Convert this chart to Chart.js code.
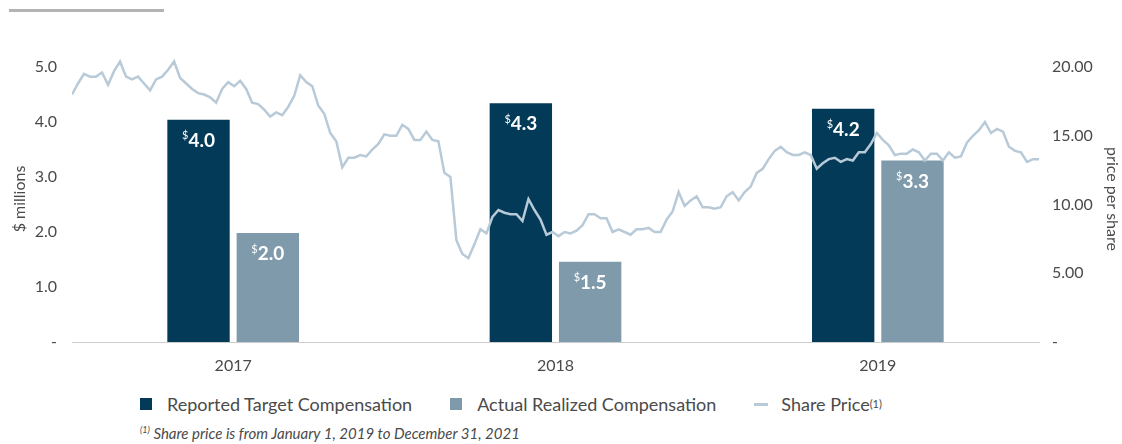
<!DOCTYPE html>
<html>
<head>
<meta charset="utf-8">
<script src="https://cdn.jsdelivr.net/npm/chart.js@4"></script>
<style>
  html, body { margin: 0; padding: 0; background: #fff; }
  body { width: 1122px; height: 444px; position: relative; overflow: hidden; font-family: Lato, "Noto Sans", sans-serif; }
  .topRule { position: absolute; left: 9px; top: 9px; width: 155px; height: 3px; background: #b3b3b3; }
  .chartBox { position: absolute; left: 0; top: 0; width: 1122px; height: 385px; }
  #legend { position: absolute; left: 140px; top: 393px; display: flex; align-items: center; color: #4a4a4a; font-size: 18px; }
  #legend .item { display: flex; align-items: center; margin-right: 38px; }
  #legend .box { width: 12px; height: 12px; margin-right: 15px; }
  #legend .dash { width: 14px; height: 3px; margin-right: 13px; }
  sup { font-size: 11px; vertical-align: 6px; line-height: 0; }
  .note { position: absolute; left: 140px; top: 424px; font-size: 15px; font-style: italic; color: #4a4a4a; }
  .note sup { font-size: 9px; vertical-align: 6px; }
</style>
</head>
<body>
<div class="topRule"></div>
<div class="chartBox"><canvas id="compChart"></canvas></div>
<div id="legend"></div>
<div class="note"><sup>(1)</sup> Share price is from January 1, 2019 to December 31, 2021</div>

<script>
// Compensation bars ($ millions)
const years = ['2017', '2018', '2019'];
const targetComp = [4.04, 4.34, 4.24];
const realizedComp = [1.98, 1.46, 3.30];

// Share price, weekly, left to right
const sharePrice = [
  18.0, 18.8, 19.5, 19.3, 19.3, 19.6, 18.7, 19.7, 20.4, 19.3,
  19.1, 19.3, 18.8, 18.3, 19.1, 19.3, 19.8, 20.4, 19.2, 18.8,
  18.4, 18.1, 18.0, 17.8, 17.4, 18.4, 18.9, 18.6, 19.0, 18.4,
  17.4, 17.3, 16.9, 16.4, 16.7, 16.5, 17.1, 17.9, 19.4, 18.9,
  18.6, 17.2, 16.6, 15.2, 14.6, 12.7, 13.4, 13.4, 13.6, 13.5,
  14.0, 14.4, 15.1, 15.0, 15.0, 15.8, 15.5, 14.7, 14.7, 15.3,
  14.7, 14.6, 12.3, 12.0, 7.4, 6.4, 6.1, 7.1, 8.2, 7.9,
  9.1, 9.6, 9.4, 9.3, 9.3, 8.8, 10.4, 9.6, 8.9, 7.8,
  8.0, 7.7, 8.0, 7.9, 8.1, 8.5, 9.3, 9.3, 9.0, 9.0,
  8.0, 8.2, 8.0, 7.8, 8.2, 8.2, 8.3, 8.0, 8.0, 8.9,
  9.5, 10.9, 9.9, 10.3, 10.6, 9.8, 9.8, 9.7, 9.8, 10.6,
  10.9, 10.3, 10.9, 11.3, 12.3, 12.6, 13.3, 13.9, 14.2, 13.8,
  13.6, 13.6, 13.8, 13.6, 12.6, 13.0, 13.3, 13.4, 13.1, 13.3,
  13.2, 13.8, 13.8, 14.4, 15.2, 14.7, 14.3, 13.6, 13.7, 13.7,
  14.0, 13.8, 13.2, 13.7, 13.7, 13.2, 13.8, 13.4, 13.5, 14.5,
  15.0, 15.4, 16.0, 15.2, 15.5, 15.3, 14.2, 13.9, 13.8, 13.1,
  13.3, 13.3
];

const leftTicks = [0, 1, 2, 3, 4, 5];
const rightTicks = [0, 5, 10, 15, 20];

const darkBlue = '#033a57';
const greyBlue = '#7f9aab';
const lineBlue = '#b8cad8';
const textGrey = '#4a4a4a';

// white "$x.x" labels inside the bars
const barLabels = {
  id: 'barLabels',
  afterDatasetsDraw(chart) {
    const ctx = chart.ctx;
    ctx.save();
    ctx.fillStyle = '#fff';
    ctx.textBaseline = 'middle';
    chart.data.datasets.forEach((ds, di) => {
      if (ds.type !== 'bar') return;
      chart.getDatasetMeta(di).data.forEach((bar, i) => {
        const txt = ds.data[i].toFixed(1);
        ctx.font = 'bold 19px Lato';
        const w1 = ctx.measureText(txt).width;
        ctx.font = '11px Lato';
        const w0 = ctx.measureText('$').width;
        const x0 = bar.x - (w0 + w1) / 2;
        const y = bar.y + 21;
        ctx.fillText('$', x0, y - 5);
        ctx.font = 'bold 19px Lato';
        ctx.fillText(txt, x0 + w0, y);
      });
    });
    ctx.restore();
  }
};

const ctx = document.getElementById('compChart').getContext('2d');
const chart = new Chart(ctx, {
  data: {
    labels: years,
    datasets: [
      {
        type: 'line',
        label: 'Share Price',
        data: sharePrice.map((v, i) => ({ x: i, y: v })),
        xAxisID: 'x2',
        yAxisID: 'y1',
        borderColor: lineBlue,
        borderWidth: 2.5,
        pointRadius: 0,
        tension: 0,
        order: 0
      },
      {
        type: 'bar',
        label: 'Reported Target Compensation',
        data: targetComp,
        backgroundColor: darkBlue,
        barPercentage: 0.9,
        categoryPercentage: 0.86,
        order: 1
      },
      {
        type: 'bar',
        label: 'Actual Realized Compensation',
        data: realizedComp,
        backgroundColor: greyBlue,
        barPercentage: 0.9,
        categoryPercentage: 0.86,
        order: 1
      }
    ]
  },
  options: {
    responsive: true,
    maintainAspectRatio: false,
    animation: false,
    layout: { padding: { top: 56, left: 0, right: 0, bottom: 0 } },
    plugins: {
      legend: { display: false },
      tooltip: { enabled: false }
    },
    scales: {
      x: {
        type: 'category',
        offset: true,
        grid: { display: false, drawTicks: false },
        border: { display: true, color: '#cccccc', width: 1 },
        ticks: { color: textGrey, font: { family: 'Lato', size: 16 }, padding: 14 },
        afterFit: s => { s.height = 43; }
      },
      x2: {
        type: 'linear',
        display: false,
        min: 0,
        max: sharePrice.length - 1
      },
      y: {
        position: 'left',
        min: 0,
        max: 5.2,
        grid: { display: false, drawTicks: false },
        border: { display: false },
        afterBuildTicks: s => { s.ticks = leftTicks.map(v => ({ value: v })); },
        ticks: {
          color: textGrey,
          font: { family: 'Lato', size: 16 },
          padding: 15,
          callback: v => v === 0 ? '-' : v.toFixed(1)
        },
        title: { display: true, text: '$ millions', color: textGrey, font: { family: 'Lato', size: 16 }, padding: { top: 10, bottom: 0 } },
        afterFit: s => { s.width = 72; }
      },
      y1: {
        position: 'right',
        min: 0,
        max: 20.8,
        grid: { display: false, drawTicks: false },
        border: { display: false },
        afterBuildTicks: s => { s.ticks = rightTicks.map(v => ({ value: v })); },
        ticks: {
          color: textGrey,
          font: { family: 'Lato', size: 16 },
          padding: 13,
          callback: v => v === 0 ? '-' : v.toFixed(2)
        },
        title: { display: true, text: 'price per share', color: textGrey, font: { family: 'Lato', size: 16 }, padding: { top: 0, bottom: 0 } },
        afterFit: s => { s.width = 83; }
      }
    }
  },
  plugins: [barLabels]
});

// HTML legend built from the datasets
const legend = document.getElementById('legend');
const legendOrder = [1, 2, 0];
legend.innerHTML = legendOrder.map(di => {
  const ds = chart.data.datasets[di];
  if (ds.type === 'line') {
    return `<div class="item"><span class="dash" style="background:${ds.borderColor}"></span>${ds.label}<sup>(1)</sup></div>`;
  }
  return `<div class="item"><span class="box" style="background:${ds.backgroundColor}"></span>${ds.label}</div>`;
}).join('');
</script>
</body>
</html>
